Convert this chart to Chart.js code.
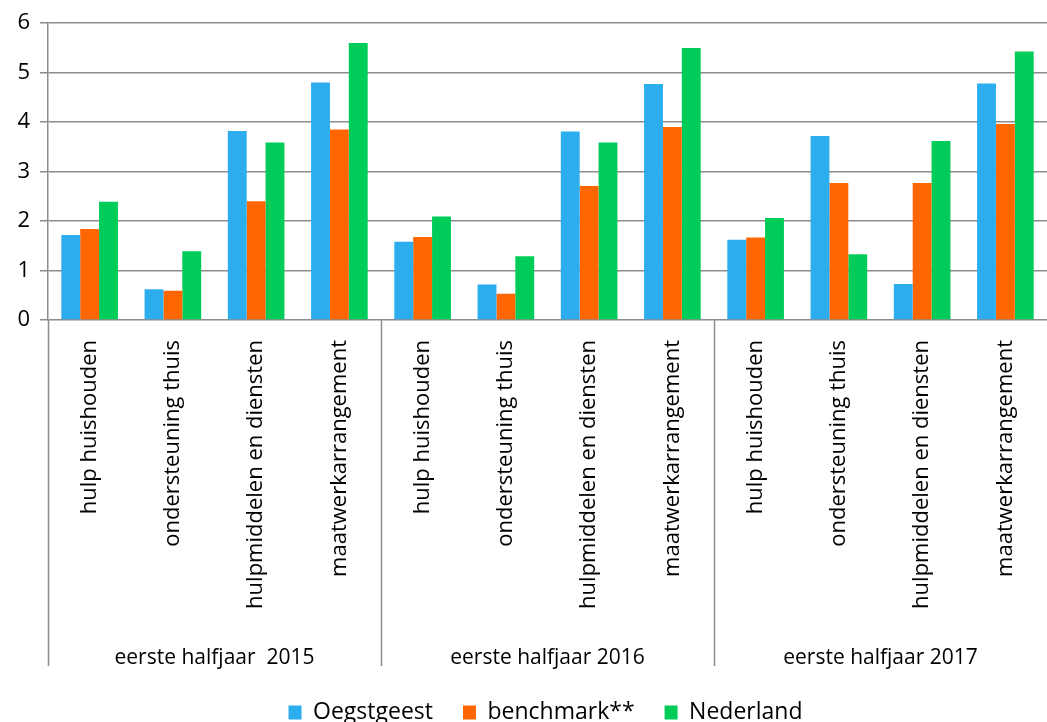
<!DOCTYPE html>
<html>
<head>
<meta charset="utf-8">
<script src="https://cdn.jsdelivr.net/npm/chart.js@4"></script>
<style>
  html, body { margin: 0; padding: 0; background: #fff; }
  #wrap { width: 1047px; height: 722px; }
</style>
</head>
<body>
<div id="wrap"><canvas id="chart"></canvas></div>
<script>
// categories per half year
const categories = ['hulp huishouden', 'ondersteuning thuis', 'hulpmiddelen en diensten', 'maatwerkarrangement'];
const periods = ['eerste halfjaar  2015', 'eerste halfjaar 2016', 'eerste halfjaar 2017'];

// values, 2015 / 2016 / 2017
const oegstgeest = [1.72, 0.62, 3.82, 4.80,  1.58, 0.72, 3.81, 4.77,  1.62, 3.72, 0.73, 4.78];
const benchmark  = [1.84, 0.59, 2.40, 3.85,  1.68, 0.53, 2.71, 3.90,  1.67, 2.77, 2.77, 3.96];
const nederland  = [2.39, 1.39, 3.59, 5.60,  2.09, 1.29, 3.59, 5.50,  2.06, 1.33, 3.62, 5.43];

const yTicks = [0, 1, 2, 3, 4, 5, 6];

const labels = [];
periods.forEach(() => categories.forEach(c => labels.push(c)));

const FONT = "'Open Sans', sans-serif";

// group separators + period labels under the rotated tick labels
const groupPlugin = {
    id: 'groupLabels',
    afterLayout(chart) {
        // legend in the original sits a bit right of centre
        if (chart.legend) {
            chart.legend.left += 22;
            chart.legend.right += 22;
        }
    },
    afterDraw(chart) {
        const ctx = chart.ctx;
        const x = chart.scales.x;
        const area = chart.chartArea;
        const bottom = area.bottom + 346;
        ctx.save();
        ctx.strokeStyle = '#8c8c8c';
        ctx.lineWidth = 1.5;
        for (let g = 0; g < periods.length; g++) {
            const edge = g === 0 ? area.left : x.getPixelForValue(g * categories.length - 0.5);
            ctx.beginPath();
            ctx.moveTo(Math.round(edge) + 0.5, area.bottom);
            ctx.lineTo(Math.round(edge) + 0.5, bottom);
            ctx.stroke();
        }
        ctx.fillStyle = '#000';
        ctx.font = '21px ' + FONT;
        ctx.textAlign = 'center';
        ctx.textBaseline = 'middle';
        periods.forEach((p, g) => {
            const cx = x.getPixelForValue(g * categories.length + (categories.length - 1) / 2);
            ctx.fillText(p, cx, area.bottom + 338);
        });
        ctx.restore();
    }
};

const ctx = document.getElementById('chart').getContext('2d');
const chart = new Chart(ctx, {
    type: 'bar',
    data: {
        labels: labels,
        datasets: [{
            label: 'Oegstgeest',
            data: oegstgeest,
            backgroundColor: '#2BADEE'
        }, {
            label: 'benchmark**',
            data: benchmark,
            backgroundColor: '#FF6600'
        }, {
            label: 'Nederland',
            data: nederland,
            backgroundColor: '#00CC5A'
        }]
    },
    options: {
        responsive: true,
        maintainAspectRatio: false,
        animation: false,
        datasets: {
            bar: {
                categoryPercentage: 0.68,
                barPercentage: 1.0
            }
        },
        layout: {
            padding: { top: 14, right: 0, bottom: -12, left: 0 }
        },
        scales: {
            x: {
                grid: { display: false },
                border: { display: false },
                ticks: {
                    color: '#000',
                    font: { family: FONT, size: 22 },
                    maxRotation: 90,
                    minRotation: 90,
                    padding: 12,
                    autoSkip: false
                },
                afterFit: function(scale) {
                    scale.height = 351;
                }
            },
            y: {
                min: 0,
                max: 6,
                afterBuildTicks: function(scale) {
                    scale.ticks = yTicks.map(v => ({ value: v }));
                },
                grid: {
                    color: '#8c8c8c',
                    lineWidth: 1.5,
                    tickLength: 8
                },
                border: { display: true, color: '#8c8c8c', width: 1.5 },
                ticks: {
                    color: '#000',
                    font: { family: FONT, size: 22 },
                    padding: 10
                },
                afterFit: function(scale) {
                    scale.width = 48;
                }
            }
        },
        plugins: {
            legend: {
                position: 'bottom',
                labels: {
                    color: '#000',
                    font: { family: FONT, size: 23 },
                    boxWidth: 13,
                    boxHeight: 14,
                    padding: 30
                }
            },
            tooltip: { enabled: false }
        }
    },
    plugins: [groupPlugin]
});
</script>
</body>
</html>
